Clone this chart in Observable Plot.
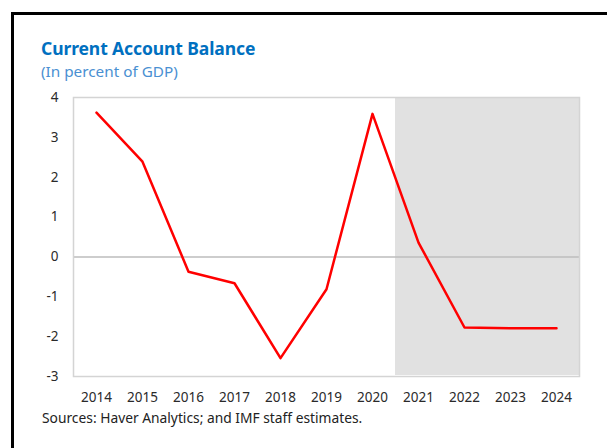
<!DOCTYPE html>
<html>
<head>
<meta charset="utf-8">
<script src="https://cdn.jsdelivr.net/npm/d3@7"></script>
<script src="https://cdn.jsdelivr.net/npm/@observablehq/plot@0.6"></script>
<style>
  html, body { margin: 0; padding: 0; background: #fff; width: 607px; height: 448px; overflow: hidden; }
  #page { position: relative; width: 607px; height: 448px; font-family: "Noto Sans", "Open Sans", sans-serif; }
  #border { position: absolute; left: 11px; top: 12px; width: 620px; height: 460px; border-left: 3px solid #000; border-top: 3px solid #000; box-sizing: border-box; }
  #title { position: absolute; left: 41px; top: 36px; font-size: 17.5px; font-weight: bold; color: #0070C0; white-space: nowrap; letter-spacing: -0.1px; }
  #subtitle { position: absolute; left: 41px; top: 61px; font-size: 15.3px; color: #4a90d2; white-space: nowrap; }
  #chart { position: absolute; left: 0; top: 85px; }
  #source { position: absolute; left: 42px; top: 408px; font-size: 13.8px; color: #222; white-space: nowrap; }
</style>
</head>
<body>
<div id="page">
  <div id="border"></div>
  <div id="title">Current Account Balance</div>
  <div id="subtitle">(In percent of GDP)</div>
  <div id="chart"></div>
  <div id="source">Sources: Haver Analytics; and IMF staff estimates.</div>
</div>
<script>
const years = ["2014","2015","2016","2017","2018","2019","2020","2021","2022","2023","2024"];
const balance = [3.62, 2.39, -0.37, -0.66, -2.54, -0.81, 3.59, 0.36, -1.77, -1.79, -1.79];
const forecastYears = ["2021","2022","2023","2024"];
const yTicks = [-3, -2, -1, 0, 1, 2, 3, 4];

const data = years.map((y, i) => ({year: y, value: balance[i]}));
const shade = forecastYears.map(y => ({year: y}));

const chart = Plot.plot({
  width: 607,
  height: 331,
  marginLeft: 73,
  marginRight: 28,
  marginTop: 12,
  marginBottom: 40,
  style: {fontFamily: "'Noto Sans', 'Open Sans', sans-serif", fontSize: "13.5px", color: "#2a2a2a", background: "transparent"},
  x: {type: "band", domain: years, padding: 0, label: null, tickSize: 0, tickPadding: 16},
  y: {domain: [-3, 4], ticks: yTicks, label: null, tickSize: 0, tickPadding: 15, tickFormat: d => String(d)},
  marks: [
    Plot.barY(shade, {x: "year", y1: -3, y2: 4, fill: "#e1e1e1", inset: 0, insetTop: 1, insetBottom: 1}),
    Plot.ruleY([0], {stroke: "#bdbdbd", strokeWidth: 1.5}),
    Plot.frame({stroke: "#d4d4d4", strokeWidth: 1.5}),
    Plot.line(data, {x: "year", y: "value", stroke: "#ff0000", strokeWidth: 2.5, curve: "linear"})
  ]
});
document.getElementById("chart").appendChild(chart);
</script>
</body>
</html>
